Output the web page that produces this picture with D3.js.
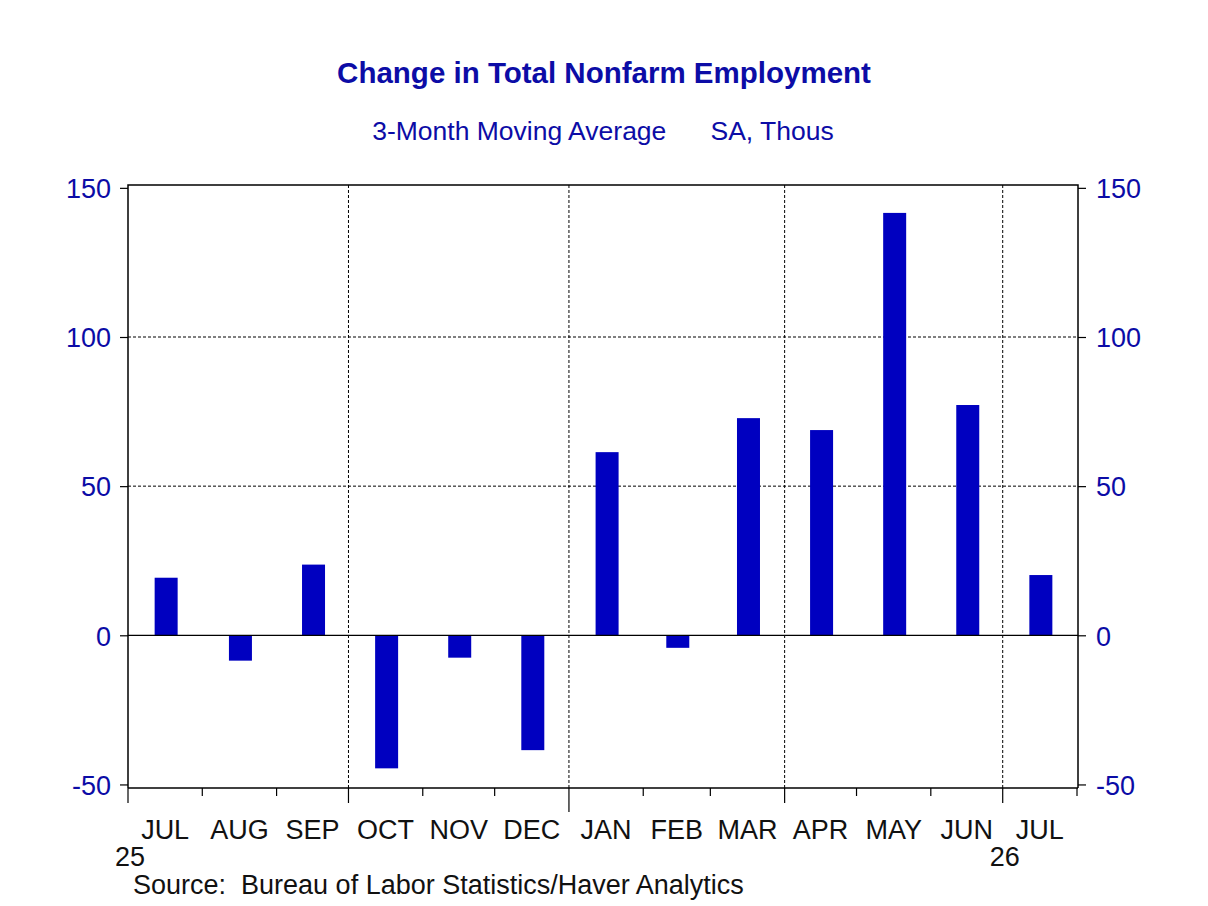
<!DOCTYPE html>
<html>
<head>
<meta charset="utf-8">
<script src="https://cdn.jsdelivr.net/npm/d3@7"></script>
<style>
  body { margin: 0; background: #fff; }
  svg { display: block; }
</style>
</head>
<body>
<svg id="chart" width="1208" height="906"></svg>
<script>
// Change in total nonfarm employment, 3-month moving average, SA thous.

const months = ["2025-07", "2025-08", "2025-09", "2025-10", "2025-11", "2025-12",
  "2026-01", "2026-02", "2026-03", "2026-04", "2026-05", "2026-06", "2026-07"];
const monthLabels = ["JUL", "AUG", "SEP", "OCT", "NOV", "DEC",
  "JAN", "FEB", "MAR", "APR", "MAY", "JUN", "JUL"];
const values = [19.3, -8.5, 23.7, -44.6, -7.5, -38.5, 61.4, -4.2, 72.8, 68.8, 141.6, 77.2, 20.2];
const yTicks = [-50, 0, 50, 100, 150];
const yearLabels = [{ date: "2025-07", label: "25" }, { date: "2026-07", label: "26" }];

const W = 1208, H = 906;
const LEFT = 128, RIGHT = 1078, TOP = 185, BOTTOM = 788;
const BAR_W = 23;
const BLUE = "#0000c0", NAVY = "#0c0ca6";
const FONT = "'Liberation Sans', Arial, sans-serif";

const parse = d3.timeParse("%Y-%m");
const data = months.map((m, i) => ({ date: parse(m), label: monthLabels[i], value: values[i] }));

const svg = d3.select("#chart");

const x = d3.scaleTime()
  .domain([parse("2025-07"), parse("2026-08")])
  .range([LEFT, RIGHT - 1]);
const y = d3.scaleLinear().domain([0, 100]).range([635.3, 337]);

const mid = (d) => (x(d.date) + x(d3.timeMonth.offset(d.date, 1))) / 2;

// titles
svg.append("text").attr("x", 604).attr("y", 83).attr("text-anchor", "middle")
  .style("font", `bold 29.5px ${FONT}`).style("fill", NAVY)
  .text("Change in Total Nonfarm Employment");
svg.append("text").attr("x", 603).attr("y", 140).attr("text-anchor", "middle")
  .style("font", `26.5px ${FONT}`).style("fill", NAVY).attr("xml:space", "preserve")
  .text("3-Month Moving Average      SA, Thous");

// gridlines
const grid = svg.append("g");
grid.selectAll("line.h").data(yTicks.filter((t) => t > 0 && t < 150)).enter().append("line")
  .attr("x1", LEFT).attr("x2", RIGHT).attr("y1", (t) => y(t)).attr("y2", (t) => y(t))
  .attr("stroke", "#000").attr("stroke-width", 1).attr("stroke-dasharray", "3 2");
const quarters = d3.timeMonth.every(3).range(parse("2025-08"), parse("2026-08"));
grid.selectAll("line.v").data(quarters).enter().append("line")
  .attr("x1", (d) => x(d)).attr("x2", (d) => x(d)).attr("y1", TOP).attr("y2", BOTTOM)
  .attr("stroke", "#000").attr("stroke-width", 1).attr("stroke-dasharray", "3 2");

// bars
svg.append("g").selectAll("rect").data(data).enter().append("rect")
  .attr("x", (d) => mid(d) - BAR_W / 2 + 1)
  .attr("width", BAR_W)
  .attr("y", (d) => y(Math.max(0, d.value)))
  .attr("height", (d) => Math.abs(y(d.value) - y(0)))
  .attr("fill", BLUE);

// zero line
svg.append("line").attr("x1", LEFT).attr("x2", RIGHT).attr("y1", y(0)).attr("y2", y(0))
  .attr("stroke", "#000").attr("stroke-width", 1.2);

// frame
svg.append("path")
  .attr("d", `M${LEFT},${BOTTOM}V${TOP}H${RIGHT}V${BOTTOM}`)
  .attr("fill", "none").attr("stroke", "#000").attr("stroke-width", 1.5);

// y axes (left and right)
const fmt = (d) => String(d);
const yAxisL = d3.axisLeft(y).tickValues(yTicks).tickFormat(fmt).tickSize(8).tickPadding(9);
const yAxisR = d3.axisRight(y).tickValues(yTicks).tickFormat(fmt).tickSize(8).tickPadding(10);
[[yAxisL, LEFT], [yAxisR, RIGHT]].forEach(([ax, pos]) => {
  const g = svg.append("g").attr("transform", `translate(${pos},0)`).call(ax);
  g.select(".domain").remove();
  g.selectAll(".tick line").attr("stroke", "#000").attr("stroke-width", 1.2);
  g.selectAll(".tick text").style("font", `27px ${FONT}`).style("fill", NAVY)
    .attr("dy", "0.36em");
});

// x axis
const xg = svg.append("g");
xg.append("line").attr("x1", LEFT).attr("x2", RIGHT).attr("y1", BOTTOM).attr("y2", BOTTOM)
  .attr("stroke", "#000").attr("stroke-width", 1.5);
const monthTicks = d3.timeMonth.range(parse("2025-07"), parse("2026-09"));
xg.selectAll("line.tick").data(monthTicks).enter().append("line")
  .attr("x1", (d) => x(d)).attr("x2", (d) => x(d))
  .attr("y1", BOTTOM)
  .attr("y2", (d) => d.getMonth() === 0 ? BOTTOM + 24 : d.getMonth() % 3 === 0 ? BOTTOM + 15 : BOTTOM + 8)
  .attr("stroke", "#000").attr("stroke-width", 1.2);
xg.selectAll("text.month").data(data).enter().append("text")
  .attr("x", (d) => mid(d)).attr("y", 839).attr("text-anchor", "middle")
  .style("font", `27px ${FONT}`).style("fill", "#111")
  .text((d) => d.label);
xg.selectAll("text.year").data(yearLabels).enter().append("text")
  .attr("x", (d) => x(parse(d.date)) + 2).attr("y", 866).attr("text-anchor", "middle")
  .style("font", `27px ${FONT}`).style("fill", "#111")
  .text((d) => d.label);

// source
svg.append("text").attr("x", 133).attr("y", 894).attr("xml:space", "preserve")
  .style("font", `27px ${FONT}`).style("fill", "#111")
  .text("Source:  Bureau of Labor Statistics/Haver Analytics");
</script>
</body>
</html>
